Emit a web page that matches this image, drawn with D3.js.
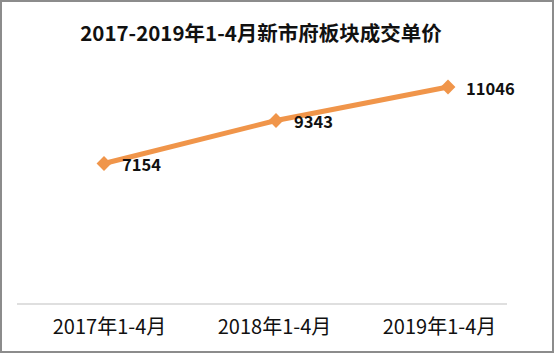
<!DOCTYPE html>
<html>
<head>
<meta charset="utf-8">
<script src="https://cdn.jsdelivr.net/npm/d3@7"></script>
<style>
  body { margin: 0; background: #fff; }
  svg { display: block; }
</style>
</head>
<body>
<div class="svg-chart"></div>
<script>
const categories = ["2017年1-4月", "2018年1-4月", "2019年1-4月"];
const prices = [7154, 9343, 11046];
const title = "2017-2019年1-4月新市府板块成交单价";

const width = 554;
const height = 353;
const font = "'Noto Sans CJK SC', 'Noto Sans', sans-serif";

let svg = d3.select(".svg-chart").append("svg")
  .attr("width", width)
  .attr("height", height);

// outer frame
svg.append("rect")
  .attr("x", 1).attr("y", 1)
  .attr("width", width - 2).attr("height", height - 2)
  .attr("fill", "#fff")
  .attr("stroke", "#8c8c8c")
  .attr("stroke-width", 2);

svg.append("text")
  .attr("x", 261)
  .attr("y", 41)
  .attr("text-anchor", "middle")
  .style("font-family", font)
  .style("font-weight", "bold")
  .style("font-size", "20.5px")
  .attr("fill", "#111")
  .text(title);

let xScale = d3.scalePoint()
  .domain(categories)
  .range([104, 448]);

// tick labels sit a little off the markers in the original
let labelScale = d3.scalePoint()
  .domain(categories)
  .range([109, 439]);

let yScale = d3.scaleLinear()
  .domain([0, 14000])
  .range([304, 29]);

// baseline axis
let xAxis = svg.append("g")
  .attr("transform", "translate(0,304)")
  .call(d3.axisBottom(labelScale).tickSize(0).tickPadding(16));
xAxis.select(".domain").remove();
xAxis.append("line")
  .attr("x1", 17).attr("x2", 507)
  .attr("stroke", "#bfbfbf")
  .attr("stroke-width", 1);
xAxis.selectAll(".tick text")
  .style("font-family", font)
  .style("font-size", "20px")
  .attr("fill", "#111")
  .attr("dy", "0.71em");

const color = "#f0954a";

let line = d3.line()
  .x((d, i) => xScale(categories[i]))
  .y((d) => yScale(d));

svg.append("path")
  .datum(prices)
  .attr("d", line)
  .attr("fill", "none")
  .attr("stroke", color)
  .attr("stroke-width", 5)
  .attr("stroke-linejoin", "round");

svg.selectAll(".marker")
  .data(prices)
  .enter()
  .append("path")
  .attr("class", "marker")
  .attr("d", d3.symbol().type(d3.symbolDiamond2).size(140))
  .attr("transform", (d, i) => `translate(${xScale(categories[i])},${yScale(d)})`)
  .attr("fill", color);

svg.selectAll(".label")
  .data(prices)
  .enter()
  .append("text")
  .attr("class", "label")
  .attr("x", (d, i) => xScale(categories[i]) + 18)
  .attr("y", (d) => yScale(d) + 8)
  .style("font-family", font)
  .style("font-weight", "bold")
  .style("font-size", "16.5px")
  .attr("fill", "#111")
  .text((d) => d);
</script>
</body>
</html>
